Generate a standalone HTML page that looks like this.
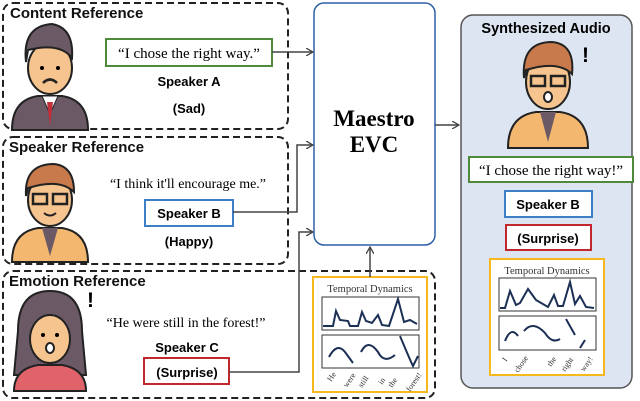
<!DOCTYPE html>
<html><head><meta charset="utf-8"><style>
body{margin:0;width:640px;height:401px;background:#fff;overflow:hidden}
svg{display:block}
.sans{font-family:"Liberation Sans",sans-serif;font-weight:bold}
.serif{font-family:"Liberation Serif",serif}
</style></head><body>
<svg width="640" height="401" viewBox="0 0 640 401">
<defs>
<marker id="ar" markerWidth="8" markerHeight="8" refX="7" refY="4" orient="auto" markerUnits="userSpaceOnUse"><path d="M0,0 L7,4 L0,8" fill="none" stroke="#444" stroke-width="1.3"/></marker>
</defs>
<rect x="3" y="3" width="285" height="126" rx="10" fill="none" stroke="#222" stroke-width="2" stroke-dasharray="7,4"/>
<rect x="3" y="137" width="285" height="127" rx="10" fill="none" stroke="#222" stroke-width="2" stroke-dasharray="7,4"/>
<rect x="3" y="271" width="432" height="127" rx="10" fill="none" stroke="#222" stroke-width="2" stroke-dasharray="7,4"/>
<text x="10" y="18" class="sans" font-size="15" fill="#111">Content Reference</text>
<text x="9" y="152" class="sans" font-size="15" fill="#111">Speaker Reference</text>
<text x="9" y="286" class="sans" font-size="15" fill="#111">Emotion Reference</text>
<rect x="314" y="3" width="121" height="242" rx="10" fill="#fff" stroke="#2f5fa8" stroke-width="1.5"/>
<text x="374" y="126" text-anchor="middle" class="serif" font-weight="bold" font-size="23">Maestro</text>
<text x="374" y="152" text-anchor="middle" class="serif" font-weight="bold" font-size="23">EVC</text>
<rect x="461" y="15" width="171" height="373" rx="12" fill="#dde5f2" stroke="#555" stroke-width="1.5"/>
<text x="546" y="33" text-anchor="middle" class="sans" font-size="14.5">Synthesized Audio</text>
<g transform="translate(50,62)">
 <path d="M-38,68 Q-38,38 -12,34 L12,34 Q38,38 38,68 Z" fill="#6b5a66" stroke="#222" stroke-width="2"/>
 <path d="M-8,34 L0,52 L8,34Z" fill="#fff" stroke="#222"/><path d="M-3,40 L0,64 L3,40Z" fill="#c0303a"/>
 <ellipse cx="0" cy="6" rx="22" ry="26" fill="#f6c48f" stroke="#222" stroke-width="2"/>
 <path d="M-24,0 Q-28,-36 2,-38 Q24,-34 22,-4 Q10,-20 -22,-12Z" fill="#6b5a66" stroke="#222" stroke-width="2"/>
 <circle cx="-8" cy="6" r="2"/><circle cx="8" cy="6" r="2"/><path d="M-7,21 Q0,14 7,21" stroke="#222" stroke-width="2.5" fill="none"/>
</g>
<rect x="106" y="39" width="166" height="27" fill="#fff" stroke="#4e8a3a" stroke-width="2"/>
<text x="189" y="58" text-anchor="middle" class="serif" font-size="15">“I chose the right way.”</text>
<text x="189" y="86" text-anchor="middle" class="sans" font-size="13">Speaker A</text>
<text x="189" y="113" text-anchor="middle" class="sans" font-size="13">(Sad)</text>
<line x1="272" y1="52" x2="313" y2="52" stroke="#444" stroke-width="1.5" marker-end="url(#ar)"/>
<g transform="translate(50,198)">
 <path d="M-38,64 Q-38,34 -12,30 L12,30 Q38,34 38,64 Z" fill="#f3b770" stroke="#222" stroke-width="2"/>
 <path d="M-8,30 L0,58 L8,30Z" fill="#6b5a66"/>
 <ellipse cx="0" cy="2" rx="22" ry="26" fill="#f6c48f" stroke="#222" stroke-width="2"/>
 <path d="M-24,-2 Q-26,-34 4,-34 Q24,-32 24,-6 Q10,-20 -22,-10Z" fill="#c87a4c" stroke="#222" stroke-width="2"/>
 <rect x="-17" y="-4" width="14" height="10" fill="none" stroke="#222" stroke-width="2.5"/><rect x="3" y="-4" width="14" height="10" fill="none" stroke="#222" stroke-width="2.5"/>
 <path d="M-6,15 Q0,20 6,15" stroke="#222" stroke-width="2" fill="none"/>
</g>
<text x="188" y="188" text-anchor="middle" class="serif" font-size="14">“I think it'll encourage me.”</text>
<rect x="145" y="200" width="88" height="26" fill="#fff" stroke="#3d7fc6" stroke-width="2"/>
<text x="189" y="218" text-anchor="middle" class="sans" font-size="13">Speaker B</text>
<text x="189" y="246" text-anchor="middle" class="sans" font-size="13">(Happy)</text>
<polyline points="233,212 297,212 297,145 313,145" fill="none" stroke="#444" stroke-width="1.5" marker-end="url(#ar)"/>
<g transform="translate(50,335)">
 <path d="M-32,-4 Q-32,-44 0,-44 Q32,-44 32,-4 L36,40 L-36,40Z" fill="#6b5a66" stroke="#222" stroke-width="2"/>
 <path d="M-36,56 Q-36,34 -12,30 L12,30 Q36,34 36,56 Z" fill="#e0636a" stroke="#222" stroke-width="2"/>
 <ellipse cx="0" cy="4" rx="20" ry="24" fill="#f6c48f" stroke="#222" stroke-width="2"/>
 <circle cx="-7" cy="0" r="2"/><circle cx="7" cy="0" r="2"/><ellipse cx="0" cy="13" rx="4" ry="5" fill="#fff" stroke="#222" stroke-width="2"/>
</g>
<text x="87" y="307" class="sans" font-size="21">!</text>
<text x="186" y="327" text-anchor="middle" class="serif" font-size="14">“He were still in the forest!”</text>
<text x="187" y="352" text-anchor="middle" class="sans" font-size="13">Speaker C</text>
<rect x="144" y="358" width="85" height="26" fill="#fff" stroke="#c0282e" stroke-width="2"/>
<text x="187" y="377" text-anchor="middle" class="sans" font-size="13">(Surprise)</text>
<polyline points="229,372 299,372 299,232 313,232" fill="none" stroke="#444" stroke-width="1.5" marker-end="url(#ar)"/>
<rect x="313" y="277" width="114" height="115" fill="#fff" stroke="#f6b81c" stroke-width="2"/>
<text x="370" y="292" text-anchor="middle" class="serif" font-size="10.5" fill="#333">Temporal Dynamics</text>
<rect x="322" y="297" width="97" height="33" fill="#fff" stroke="#333" stroke-width="1"/>
<rect x="322" y="335" width="97" height="33" fill="#fff" stroke="#333" stroke-width="1"/>
<path d="M323,326 L333,326 L336,311 L340,320 L348,321 L350,326 L358,326 L362,312 L366,321 L372,323 L378,315 L382,325 L389,326 L398,299 L404,322 L410,320 L417,324" fill="none" stroke="#1c2f55" stroke-width="2"/>
<path d="M329,357 Q337,342 345,352 L353,363 M361,352 Q368,338 378,352 Q384,364 395,355 M400,336 Q410,360 413,366 L418,356" fill="none" stroke="#1c2f55" stroke-width="2"/>
<g class="serif" font-size="8" fill="#333">
<text transform="translate(331,382) rotate(-55)">He</text><text transform="translate(347,388) rotate(-55)">were</text><text transform="translate(362,388) rotate(-55)">still</text><text transform="translate(382,385) rotate(-55)">in</text><text transform="translate(392,388) rotate(-55)">the</text><text transform="translate(410,392) rotate(-55)">forest!</text>
</g>
<line x1="370" y1="277" x2="370" y2="247" stroke="#444" stroke-width="1.5" marker-end="url(#ar)"/>
<line x1="435" y1="125" x2="459" y2="125" stroke="#444" stroke-width="1.5" marker-end="url(#ar)"/>
<g transform="translate(548,96)">
 <path d="M-40,52 Q-40,20 -12,16 L12,16 Q40,20 40,52 Z" fill="#f3b770" stroke="#222" stroke-width="2"/>
 <path d="M-8,16 L0,46 L8,16Z" fill="#6b5a66"/>
 <ellipse cx="0" cy="-14" rx="22" ry="27" fill="#f6c48f" stroke="#222" stroke-width="2"/>
 <path d="M-24,-18 Q-27,-54 4,-54 Q27,-52 24,-22 Q10,-36 -22,-26Z" fill="#c87a4c" stroke="#222" stroke-width="2"/>
 <rect x="-17" y="-20" width="14" height="10" fill="none" stroke="#222" stroke-width="2.5"/><rect x="3" y="-20" width="14" height="10" fill="none" stroke="#222" stroke-width="2.5"/>
 <ellipse cx="0" cy="1" rx="4" ry="5" fill="#fff" stroke="#222" stroke-width="2"/>
</g>
<text x="582" y="62" class="sans" font-size="21">!</text>
<rect x="469" y="157" width="164" height="25" fill="#fff" stroke="#4e8a3a" stroke-width="2"/>
<text x="551" y="175" text-anchor="middle" class="serif" font-size="15">“I chose the right way!”</text>
<rect x="505" y="191" width="87" height="26" fill="#fff" stroke="#3d7fc6" stroke-width="2"/>
<text x="548" y="209" text-anchor="middle" class="sans" font-size="13">Speaker B</text>
<rect x="506" y="225" width="85" height="25" fill="#fff" stroke="#c0282e" stroke-width="2"/>
<text x="548" y="243" text-anchor="middle" class="sans" font-size="13">(Surprise)</text>
<rect x="490" y="259" width="114" height="116" fill="#fff" stroke="#f6b81c" stroke-width="2"/>
<text x="547" y="274" text-anchor="middle" class="serif" font-size="10.5" fill="#333">Temporal Dynamics</text>
<rect x="499" y="278" width="97" height="33" fill="#fff" stroke="#333" stroke-width="1"/>
<rect x="499" y="316" width="97" height="34" fill="#fff" stroke="#333" stroke-width="1"/>
<path d="M500,308 L505,308 L510,291 L516,305 L520,303 L528,289 L536,300 L548,307 L554,295 L558,306 L563,306 L570,282 L575,304 L580,296 L586,307 L594,308" fill="none" stroke="#1c2f55" stroke-width="2"/>
<path d="M505,341 Q511,326 518,336 M524,331 Q533,320 545,333 Q552,344 560,339 M566,319 L575,335 M580,348 L585,340" fill="none" stroke="#1c2f55" stroke-width="2"/>
<g class="serif" font-size="8" fill="#333">
<text transform="translate(506,362) rotate(-55)">I</text><text transform="translate(518,373) rotate(-55)">chose</text><text transform="translate(551,367) rotate(-55)">the</text><text transform="translate(565,372) rotate(-55)">right</text><text transform="translate(584,372) rotate(-55)">way!</text>
</g>
</svg>
</body></html>
